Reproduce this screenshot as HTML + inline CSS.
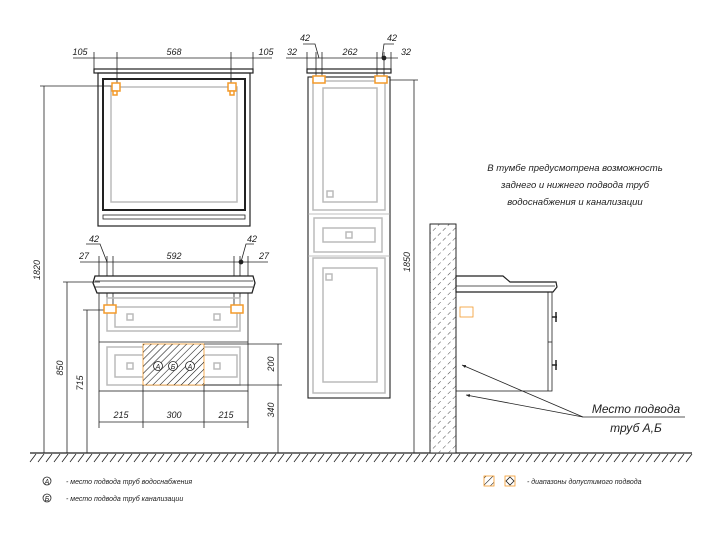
<!DOCTYPE html>
<html><head><meta charset="utf-8"><style>
html,body{margin:0;padding:0;background:#fff;width:720px;height:535px;overflow:hidden}
svg{display:block}
text{font-family:"Liberation Sans",sans-serif;font-style:italic;fill:#222}
</style></head><body>
<svg width="720" height="535" viewBox="0 0 720 535" xmlns="http://www.w3.org/2000/svg">
<defs>
<pattern id="h" width="5" height="5" patternUnits="userSpaceOnUse" patternTransform="rotate(45)">
<line x1="0" y1="0" x2="0" y2="5" stroke="#111" stroke-width="1.1"/></pattern>
<pattern id="hd" width="7" height="7" patternUnits="userSpaceOnUse" patternTransform="rotate(45)">
<line x1="0" y1="0" x2="0" y2="4" stroke="#333" stroke-width="0.9"/></pattern>
<marker id="a" markerWidth="6" markerHeight="6" refX="5" refY="3" orient="auto"><path d="M0,1 L5,3 L0,5" fill="#222"/></marker>
</defs>
<g stroke="#222" fill="none" stroke-width="0.8">
<!-- ground -->
<line x1="30" y1="453" x2="692" y2="453" stroke-width="1.2"/>
<path d="M30,462 l6,-8 M38,462 l6,-8 M46,462 l6,-8 M54,462 l6,-8 M62,462 l6,-8 M70,462 l6,-8 M78,462 l6,-8 M86,462 l6,-8 M94,462 l6,-8 M102,462 l6,-8 M110,462 l6,-8 M118,462 l6,-8 M126,462 l6,-8 M134,462 l6,-8 M142,462 l6,-8 M150,462 l6,-8 M158,462 l6,-8 M166,462 l6,-8 M174,462 l6,-8 M182,462 l6,-8 M190,462 l6,-8 M198,462 l6,-8 M206,462 l6,-8 M214,462 l6,-8 M222,462 l6,-8 M230,462 l6,-8 M238,462 l6,-8 M246,462 l6,-8 M254,462 l6,-8 M262,462 l6,-8 M270,462 l6,-8 M278,462 l6,-8 M286,462 l6,-8 M294,462 l6,-8 M302,462 l6,-8 M310,462 l6,-8 M318,462 l6,-8 M326,462 l6,-8 M334,462 l6,-8 M342,462 l6,-8 M350,462 l6,-8 M358,462 l6,-8 M366,462 l6,-8 M374,462 l6,-8 M382,462 l6,-8 M390,462 l6,-8 M398,462 l6,-8 M406,462 l6,-8 M414,462 l6,-8 M422,462 l6,-8 M430,462 l6,-8 M438,462 l6,-8 M446,462 l6,-8 M454,462 l6,-8 M462,462 l6,-8 M470,462 l6,-8 M478,462 l6,-8 M486,462 l6,-8 M494,462 l6,-8 M502,462 l6,-8 M510,462 l6,-8 M518,462 l6,-8 M526,462 l6,-8 M534,462 l6,-8 M542,462 l6,-8 M550,462 l6,-8 M558,462 l6,-8 M566,462 l6,-8 M574,462 l6,-8 M582,462 l6,-8 M590,462 l6,-8 M598,462 l6,-8 M606,462 l6,-8 M614,462 l6,-8 M622,462 l6,-8 M630,462 l6,-8 M638,462 l6,-8 M646,462 l6,-8 M654,462 l6,-8 M662,462 l6,-8 M670,462 l6,-8 M678,462 l6,-8 M686,462 l6,-8"/>

<!-- Mirror -->
<line x1="73" y1="58" x2="272" y2="58"/>
<line x1="94" y1="52" x2="94" y2="70"/><line x1="253" y1="52" x2="253" y2="70"/>
<line x1="117" y1="52" x2="117" y2="87"/><line x1="231" y1="52" x2="231" y2="87"/>
<rect x="94" y="69" width="159" height="4" stroke-width="1.2"/>
<rect x="98" y="73" width="152" height="153" stroke-width="1.2"/>
<rect x="103" y="79" width="142" height="131" stroke-width="2"/>
<rect x="111" y="87" width="126" height="115" stroke="#bbb" stroke-width="1.5"/>
<rect x="103" y="215" width="142" height="4"/>
<line x1="40" y1="86" x2="117" y2="86"/>
<line x1="44" y1="86" x2="44" y2="453"/>

<!-- Vanity -->
<line x1="80" y1="262" x2="268" y2="262"/>
<line x1="99" y1="256" x2="99" y2="280"/><line x1="248" y1="256" x2="248" y2="280"/>
<line x1="107" y1="256" x2="107" y2="310"/><line x1="113" y1="256" x2="113" y2="310"/>
<line x1="234" y1="256" x2="234" y2="310"/><line x1="240" y1="256" x2="240" y2="310"/>
<circle cx="241" cy="262" r="2" fill="#222"/>
<polyline points="86,244 100,244 107,262"/><polyline points="254,244 246,244 241,262"/>
<path d="M95,276 L253,276 L255,283 L252,293 L97,293 L93,283 Z" stroke-width="1.3" fill="#fff"/>
<line x1="95" y1="281" x2="253" y2="281"/><line x1="95" y1="287" x2="253" y2="287"/>
<rect x="99" y="293" width="149" height="98"/>
<line x1="99" y1="342" x2="248" y2="342"/>
<g stroke="#bbb" stroke-width="1.5">
<rect x="107" y="298" width="133" height="33"/><rect x="115" y="307" width="122" height="20"/>
<rect x="107" y="347" width="133" height="38"/><rect x="115" y="355" width="122" height="22"/>
<rect x="127" y="314" width="6" height="6"/><rect x="214" y="314" width="6" height="6"/>
<rect x="127" y="363" width="6" height="6"/><rect x="214" y="363" width="6" height="6"/>
</g>
<rect x="143" y="344" width="61" height="41" fill="#fff" stroke="#f39a2a"/>
<rect x="143" y="344" width="61" height="41" fill="url(#h)" stroke="none"/>
<g fill="#fff"><circle cx="158" cy="366" r="4.5"/><circle cx="173" cy="366" r="4.5"/><circle cx="190" cy="366" r="4.5"/></g>
<text x="158" y="369" font-size="7" text-anchor="middle" stroke="none">А</text>
<text x="173" y="369" font-size="7" text-anchor="middle" stroke="none">Б</text>
<text x="190" y="369" font-size="7" text-anchor="middle" stroke="none">А</text>
<line x1="99" y1="391" x2="99" y2="428"/><line x1="248" y1="391" x2="248" y2="428"/>
<line x1="143" y1="385" x2="143" y2="428"/><line x1="204" y1="385" x2="204" y2="428"/>
<line x1="99" y1="422" x2="248" y2="422"/>
<line x1="63" y1="282" x2="100" y2="282"/><line x1="67" y1="282" x2="67" y2="453"/>
<line x1="83" y1="310" x2="112" y2="310"/><line x1="87" y1="310" x2="87" y2="453"/>
<line x1="204" y1="344" x2="282" y2="344"/><line x1="204" y1="385" x2="282" y2="385"/>
<line x1="278" y1="344" x2="278" y2="453"/>

<!-- Tall cabinet -->
<line x1="286" y1="58" x2="398" y2="58"/>
<line x1="307" y1="52" x2="307" y2="70"/><line x1="391" y1="52" x2="391" y2="70"/>
<line x1="316" y1="52" x2="316" y2="82"/><line x1="322" y1="52" x2="322" y2="82"/>
<line x1="377" y1="52" x2="377" y2="82"/><line x1="384" y1="52" x2="384" y2="82"/>
<circle cx="384" cy="58" r="2" fill="#222"/>
<polyline points="303,44 315,44 319,58"/><polyline points="394,44 384,44 382,58"/>
<rect x="307" y="69" width="84" height="4" stroke-width="1.2"/>
<rect x="308" y="77" width="82" height="321" stroke-width="1.1"/>
<line x1="308" y1="214" x2="390" y2="214" stroke="#aaa"/><line x1="308" y1="256" x2="390" y2="256" stroke="#aaa"/>
<g stroke="#bbb" stroke-width="1.5">
<rect x="313" y="81" width="72" height="129"/><rect x="323" y="88" width="54" height="114"/>
<rect x="314" y="218" width="68" height="34"/><rect x="323" y="228" width="52" height="14"/>
<rect x="313" y="258" width="72" height="135"/><rect x="323" y="268" width="54" height="114"/>
<rect x="327" y="191" width="6" height="6"/><rect x="346" y="232" width="6" height="6"/><rect x="326" y="274" width="6" height="6"/>
</g>
<line x1="390" y1="80" x2="418" y2="80"/><line x1="414" y1="80" x2="414" y2="453"/>

<!-- Side view -->
<rect x="430" y="224" width="26" height="229" fill="#fff"/>
<rect x="430" y="224" width="26" height="229" fill="url(#hd)"/>
<path d="M456,276 L503,276 L510,282 L556,282 L557,287 L553,292 L456,292 Z" stroke-width="1.2" fill="#fff"/>
<line x1="456" y1="286" x2="555" y2="286"/>
<rect x="456" y="292" width="96" height="99"/>
<line x1="548" y1="292" x2="548" y2="391"/><line x1="548" y1="342" x2="552" y2="342"/>
<line x1="552" y1="317" x2="557" y2="317" stroke-width="1.5"/><line x1="556" y1="312" x2="556" y2="322" stroke-width="1.5"/>
<line x1="552" y1="365" x2="557" y2="365" stroke-width="1.5"/><line x1="556" y1="360" x2="556" y2="370" stroke-width="1.5"/>
<rect x="460" y="307" width="13" height="10" stroke="#f39a2a"/>
<line x1="583" y1="417" x2="685" y2="417"/>
<line x1="583" y1="417" x2="462" y2="365" marker-end="url(#a)"/>
<line x1="583" y1="417" x2="466" y2="395" marker-end="url(#a)"/>
</g>

<!-- orange brackets -->
<g fill="#fff" stroke="#f39a2a" stroke-width="1.5">
<rect x="112" y="83" width="8" height="8"/><rect x="113" y="91" width="4" height="4"/>
<rect x="228" y="83" width="8" height="8"/><rect x="230" y="91" width="4" height="4"/>
<rect x="104" y="305" width="12" height="8"/><rect x="231" y="305" width="12" height="8"/>
<rect x="313" y="76" width="12" height="7"/><rect x="375" y="76" width="12" height="7"/>
</g>

<!-- dims text -->
<g font-size="9">
<text x="80" y="55" text-anchor="middle">105</text><text x="174" y="55" text-anchor="middle">568</text><text x="266" y="55" text-anchor="middle">105</text>
<text x="94" y="242" text-anchor="middle">42</text><text x="252" y="242" text-anchor="middle">42</text>
<text x="84" y="259" text-anchor="middle">27</text><text x="174" y="259" text-anchor="middle">592</text><text x="264" y="259" text-anchor="middle">27</text>
<text x="121" y="418" text-anchor="middle">215</text><text x="174" y="418" text-anchor="middle">300</text><text x="226" y="418" text-anchor="middle">215</text>
<text x="305" y="41" text-anchor="middle">42</text><text x="392" y="41" text-anchor="middle">42</text>
<text x="292" y="55" text-anchor="middle">32</text><text x="350" y="55" text-anchor="middle">262</text><text x="406" y="55" text-anchor="middle">32</text>
<text transform="translate(40,270) rotate(-90)" text-anchor="middle">1820</text>
<text transform="translate(63,368) rotate(-90)" text-anchor="middle">850</text>
<text transform="translate(83,383) rotate(-90)" text-anchor="middle">715</text>
<text transform="translate(274,364) rotate(-90)" text-anchor="middle">200</text>
<text transform="translate(274,410) rotate(-90)" text-anchor="middle">340</text>
<text transform="translate(410,262) rotate(-90)" text-anchor="middle">1850</text>
</g>
<g font-size="9.5" text-anchor="middle">
<text x="575" y="171">В тумбе предусмотрена возможность</text>
<text x="575" y="188">заднего и нижнего подвода труб</text>
<text x="575" y="205">водоснабжения и канализации</text>
</g>
<text x="636" y="413" font-size="12" text-anchor="middle">Место подвода</text>
<text x="636" y="432" font-size="12" text-anchor="middle">труб А,Б</text>

<!-- legend -->
<g stroke="#222" fill="#fff" stroke-width="0.8">
<circle cx="47" cy="481" r="4"/><circle cx="47" cy="498" r="4"/>
<rect x="484" y="476" width="10" height="10" stroke="#f39a2a" fill="url(#h)"/>
<rect x="505" y="476" width="10" height="10" stroke="#f39a2a"/>
<path d="M510,477 L514,481 L510,485 L506,481 Z"/>
</g>
<g font-size="7">
<text x="47" y="484" text-anchor="middle">А</text><text x="47" y="501" text-anchor="middle">Б</text>
<text x="66" y="484">- место подвода труб водоснабжения</text>
<text x="66" y="501">- место подвода труб канализации</text>
<text x="527" y="484">- диапазоны допустимого подвода</text>
</g>
</svg>
</body></html>
